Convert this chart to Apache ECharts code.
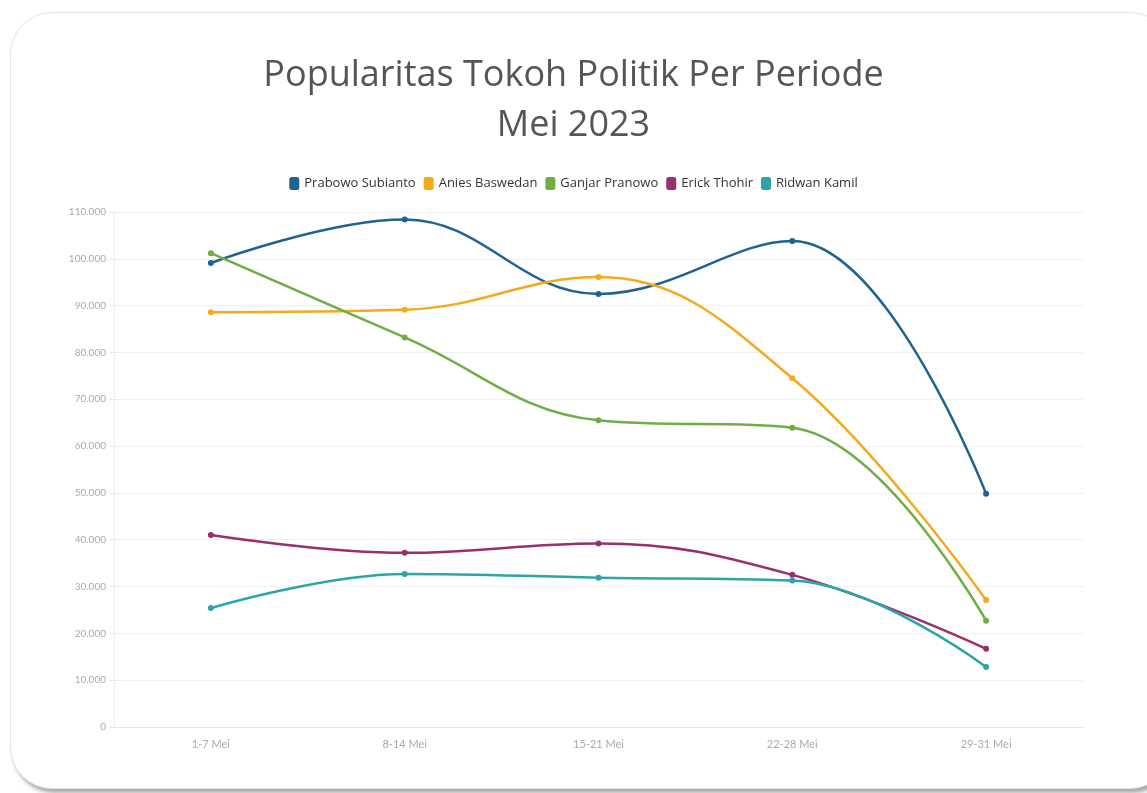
<!DOCTYPE html>
<html>
<head>
<meta charset="utf-8">
<script src="https://cdn.jsdelivr.net/npm/echarts@6/dist/echarts.min.js"></script>
<style>
    html, body { margin: 0; padding: 0; background: #fff; overflow: hidden; }
    #card {
        position: absolute; left: 10px; top: 12px; width: 1160px; height: 775px;
        border-radius: 42px; background: #fff;
        border: 1px solid #e4e4e4;
        box-shadow: 3px 4px 4px rgba(0, 0, 0, 0.35);
    }
    #chart { position: absolute; left: 0; top: 0; width: 1147px; height: 793px; }
</style>
</head>
<body>
<div id="card"></div>
<div id="chart"></div>
<script>
const periods = ['1-7 Mei', '8-14 Mei', '15-21 Mei', '22-28 Mei', '29-31 Mei'];

const prabowo = [99100, 108400, 92500, 103800, 49800];
const anies = [88600, 89100, 96100, 74500, 27100];
const ganjar = [101200, 83200, 65500, 63900, 22700];
const erick = [41000, 37200, 39200, 32500, 16700];
const ridwan = [25400, 32700, 31900, 31300, 12800];

const names = ['Prabowo Subianto', 'Anies Baswedan', 'Ganjar Pranowo', 'Erick Thohir', 'Ridwan Kamil'];
const colors = ['#1f6391', '#f4aa1d', '#6fae46', '#98306d', '#2ba5a8'];

function makeSeries(name, values) {
    return {
        name: name,
        type: 'line',
        smooth: 0.4,
        data: values,
        symbol: 'circle',
        symbolSize: 6,
        lineStyle: { width: 2.5 },
        emphasis: { disabled: true }
    };
}

// thousand separator with dots, like 110.000
function fmt(v) {
    return String(v).replace(/\B(?=(\d{3})+(?!\d))/g, '.');
}

var myChart = echarts.init(document.getElementById('chart'));
var option = {
    animation: false,
    color: colors,
    textStyle: { fontFamily: 'Lato' },
    title: {
        text: 'Popularitas Tokoh Politik Per Periode\nMei 2023',
        left: 'center',
        top: 46,
        textStyle: {
            fontFamily: 'Open Sans',
            fontSize: 36,
            fontWeight: 'normal',
            color: '#555555',
            lineHeight: 50
        }
    },
    legend: {
        top: 172,
        left: 'center',
        icon: 'roundRect',
        itemWidth: 10,
        itemHeight: 13,
        itemGap: 8,
        textStyle: { fontSize: 13, color: '#333', fontFamily: 'Open Sans' },
        data: names
    },
    grid: { left: 114, right: 64, top: 212, bottom: 66 },
    xAxis: {
        type: 'category',
        data: periods,
        boundaryGap: true,
        axisLine: { lineStyle: { color: '#e4e4e4' } },
        axisTick: { alignWithLabel: true, lineStyle: { color: '#eeeeee' } },
        axisLabel: { color: '#aaaaaa', fontSize: 11, margin: 12 }
    },
    yAxis: {
        type: 'value',
        min: 0,
        max: 110000,
        interval: 10000,
        axisLine: { show: true, lineStyle: { color: '#eeeeee' } },
        axisTick: { show: true, length: 4, lineStyle: { color: '#e4e4e4' } },
        axisLabel: { color: '#aaaaaa', fontSize: 10, margin: 8, formatter: fmt },
        splitLine: { lineStyle: { color: '#f0f0f0' } }
    },
    series: [
        makeSeries(names[0], prabowo),
        makeSeries(names[1], anies),
        makeSeries(names[2], ganjar),
        makeSeries(names[3], erick),
        makeSeries(names[4], ridwan)
    ]
};
myChart.setOption(option);
</script>
</body>
</html>
